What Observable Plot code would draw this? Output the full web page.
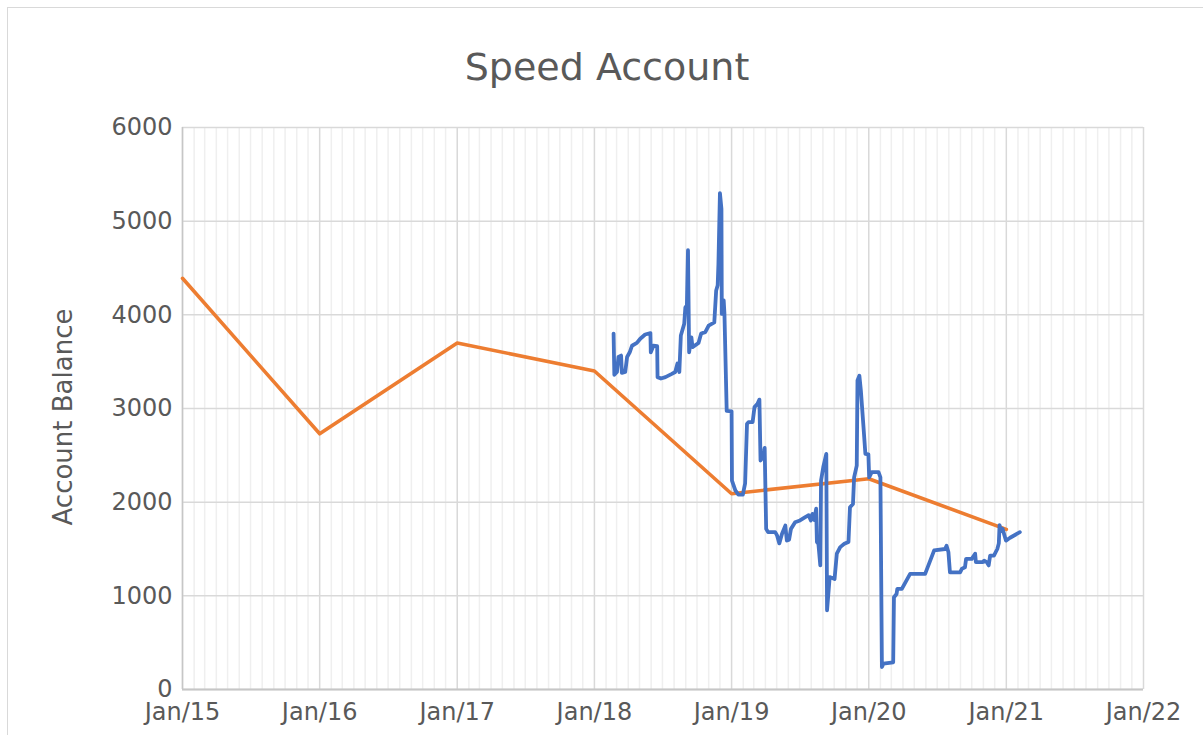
<!DOCTYPE html>
<html>
<head>
<meta charset="utf-8">
<script src="https://cdn.jsdelivr.net/npm/d3@7"></script>
<script src="https://cdn.jsdelivr.net/npm/@observablehq/plot@0.6"></script>
<style>
  html, body { margin: 0; padding: 0; background: #fff; }
  #wrap { position: relative; width: 1203px; height: 735px; overflow: hidden; font-family: "DejaVu Sans", sans-serif; }
  #frame { position: absolute; left: 7px; top: 7px; width: 1300px; height: 900px; border: 1px solid #d9d9d9; box-sizing: border-box; }
  #title { position: absolute; left: 607px; top: 48px; transform: translateX(-50%); font-size: 38px; line-height: 38px; color: #595959; white-space: nowrap; }
  #ylabel { position: absolute; left: 63px; top: 417px; transform: translate(-50%, -50%) rotate(-90deg); font-size: 26px; line-height: 26px; color: #595959; white-space: nowrap; }
  #chart { position: absolute; left: 0; top: 0; }
</style>
</head>
<body>
<div id="wrap">
  <div id="frame"></div>
  <div id="chart"></div>
  <div id="title">Speed Account</div>
  <div id="ylabel">Account Balance</div>
</div>
<script>
// Yearly snapshot series (orange)
const yearlyDates = ["2015-01-01","2016-01-01","2017-01-01","2018-01-01","2019-01-01","2020-01-01","2021-01-01"];
const yearlyValues = [4390, 2730, 3700, 3400, 2090, 2250, 1710];

// Transaction balance series (blue)
const balanceDates = [
  "2018-02-21","2018-02-23","2018-03-02","2018-03-06","2018-03-13","2018-03-15","2018-03-24","2018-03-29",
  "2018-04-05","2018-04-11","2018-04-24","2018-05-03","2018-05-16","2018-05-30","2018-05-31","2018-06-07",
  "2018-06-17","2018-06-18","2018-06-27","2018-07-09","2018-07-26","2018-08-04","2018-08-10","2018-08-15",
  "2018-08-19","2018-08-28","2018-08-31","2018-09-04","2018-09-07","2018-09-10","2018-09-16","2018-09-19",
  "2018-10-05","2018-10-12","2018-10-23","2018-11-01","2018-11-16","2018-11-21","2018-11-25","2018-11-27",
  "2018-12-01","2018-12-05","2018-12-06","2018-12-11","2018-12-13","2018-12-19","2019-01-01","2019-01-02",
  "2019-01-11","2019-01-19","2019-01-31","2019-02-06","2019-02-11","2019-02-15","2019-02-26","2019-03-03",
  "2019-03-11","2019-03-16","2019-03-19","2019-03-25","2019-03-30","2019-04-03","2019-04-08","2019-04-27",
  "2019-05-02","2019-05-08","2019-05-15","2019-05-24","2019-05-28","2019-06-03","2019-06-08","2019-06-19",
  "2019-07-02","2019-07-16","2019-07-25","2019-07-31","2019-08-04","2019-08-09","2019-08-14","2019-08-16",
  "2019-08-20","2019-08-25","2019-08-27","2019-09-02","2019-09-10","2019-09-12","2019-09-19","2019-10-02",
  "2019-10-08","2019-10-17","2019-10-28","2019-11-08","2019-11-12","2019-11-20","2019-11-23","2019-11-30",
  "2019-12-02","2019-12-07","2019-12-11","2019-12-18","2019-12-23","2019-12-31","2020-01-02","2020-01-09",
  "2020-01-27","2020-02-01","2020-02-05","2020-02-09","2020-03-06","2020-03-08","2020-03-15","2020-03-17",
  "2020-03-29","2020-04-20","2020-05-30","2020-06-23","2020-07-22","2020-07-26","2020-07-31","2020-08-04",
  "2020-08-31","2020-09-05","2020-09-13","2020-09-16","2020-10-01","2020-10-10","2020-10-12","2020-10-30",
  "2020-11-03","2020-11-10","2020-11-15","2020-11-19","2020-11-29","2020-12-08","2020-12-12","2020-12-14",
  "2020-12-18","2020-12-22","2020-12-31","2021-01-11","2021-02-06"
];
const balanceValues = [
  3800,3360,3390,3550,3565,3380,3390,3550,
  3600,3670,3700,3745,3790,3805,3600,3670,
  3665,3335,3320,3335,3370,3390,3480,3390,
  3780,3905,4080,4100,4690,3600,3760,3655,
  3700,3800,3815,3885,3920,4260,4315,4545,
  5300,5130,4010,4155,4010,2975,2970,2230,
  2125,2080,2080,2200,2835,2855,2855,3015,
  3050,3095,2445,2480,2580,1715,1680,1680,
  1645,1560,1660,1750,1590,1600,1715,1785,
  1805,1840,1860,1805,1875,1810,1930,1575,
  1555,1325,2230,2375,2515,845,1200,1180,
  1450,1520,1555,1575,1945,1980,2265,2390,
  3300,3350,3190,2800,2515,2510,2265,2320,
  2320,2265,240,275,290,985,1020,1075,
  1075,1235,1235,1485,1500,1535,1465,1250,
  1250,1290,1305,1395,1395,1450,1360,1360,
  1375,1360,1325,1430,1430,1500,1560,1755,
  1690,1715,1590,1620,1680
];

const yTicks = [0, 1000, 2000, 3000, 4000, 5000, 6000];
const xTickLabels = ["Jan/15","Jan/16","Jan/17","Jan/18","Jan/19","Jan/20","Jan/21","Jan/22"];
const xDomain = ["2015-01-01", "2022-01-01"];

const parse = d3.utcParse("%Y-%m-%d");
const yearly = yearlyDates.map((d, i) => ({date: parse(d), value: yearlyValues[i]}));
const balance = balanceDates.map((d, i) => ({date: parse(d), value: balanceValues[i]}));
const x0 = parse(xDomain[0]), x1 = parse(xDomain[1]);
const yearTicks = d3.utcYear.range(x0, d3.utcYear.offset(x1, 1));
const monthTicks = d3.utcMonth.range(x0, x1).filter(d => d.getUTCMonth() !== 0);

const chart = Plot.plot({
  width: 1203,
  height: 735,
  marginLeft: 182,
  marginRight: 60,
  marginTop: 127,
  marginBottom: 46,
  style: {fontFamily: "DejaVu Sans, sans-serif", background: "transparent"},
  x: {type: "utc", domain: [x0, x1]},
  y: {domain: [0, 6000]},
  marks: [
    Plot.ruleX(monthTicks, {x: d => d, stroke: "#efefef", strokeWidth: 1.5}),
    Plot.ruleX(yearTicks, {x: d => d, stroke: "#d9d9d9", strokeWidth: 1.5}),
    Plot.ruleY(yTicks, {y: d => d, stroke: "#d9d9d9", strokeWidth: 1.5}),
    Plot.ruleY([0], {stroke: "#c6c6c6", strokeWidth: 1.8}),
    Plot.ruleX([x0], {stroke: "#c6c6c6", strokeWidth: 1.5}),
    Plot.axisX({
      ticks: yearTicks,
      tickFormat: (d, i) => xTickLabels[i],
      tickSize: 0, tickPadding: 13,
      fontSize: 24, fill: "#595959", label: null
    }),
    Plot.axisY({
      ticks: yTicks, tickFormat: d => String(d),
      tickSize: 0, tickPadding: 10,
      fontSize: 24, fill: "#595959", label: null
    }),
    Plot.line(yearly, {x: "date", y: "value", stroke: "#ED7D31", strokeWidth: 3.6, strokeLinejoin: "round", strokeLinecap: "round"}),
    Plot.line(balance, {x: "date", y: "value", stroke: "#4472C4", strokeWidth: 3.8, strokeLinejoin: "round", strokeLinecap: "round"})
  ]
});
document.getElementById("chart").appendChild(chart);
</script>
</body>
</html>
